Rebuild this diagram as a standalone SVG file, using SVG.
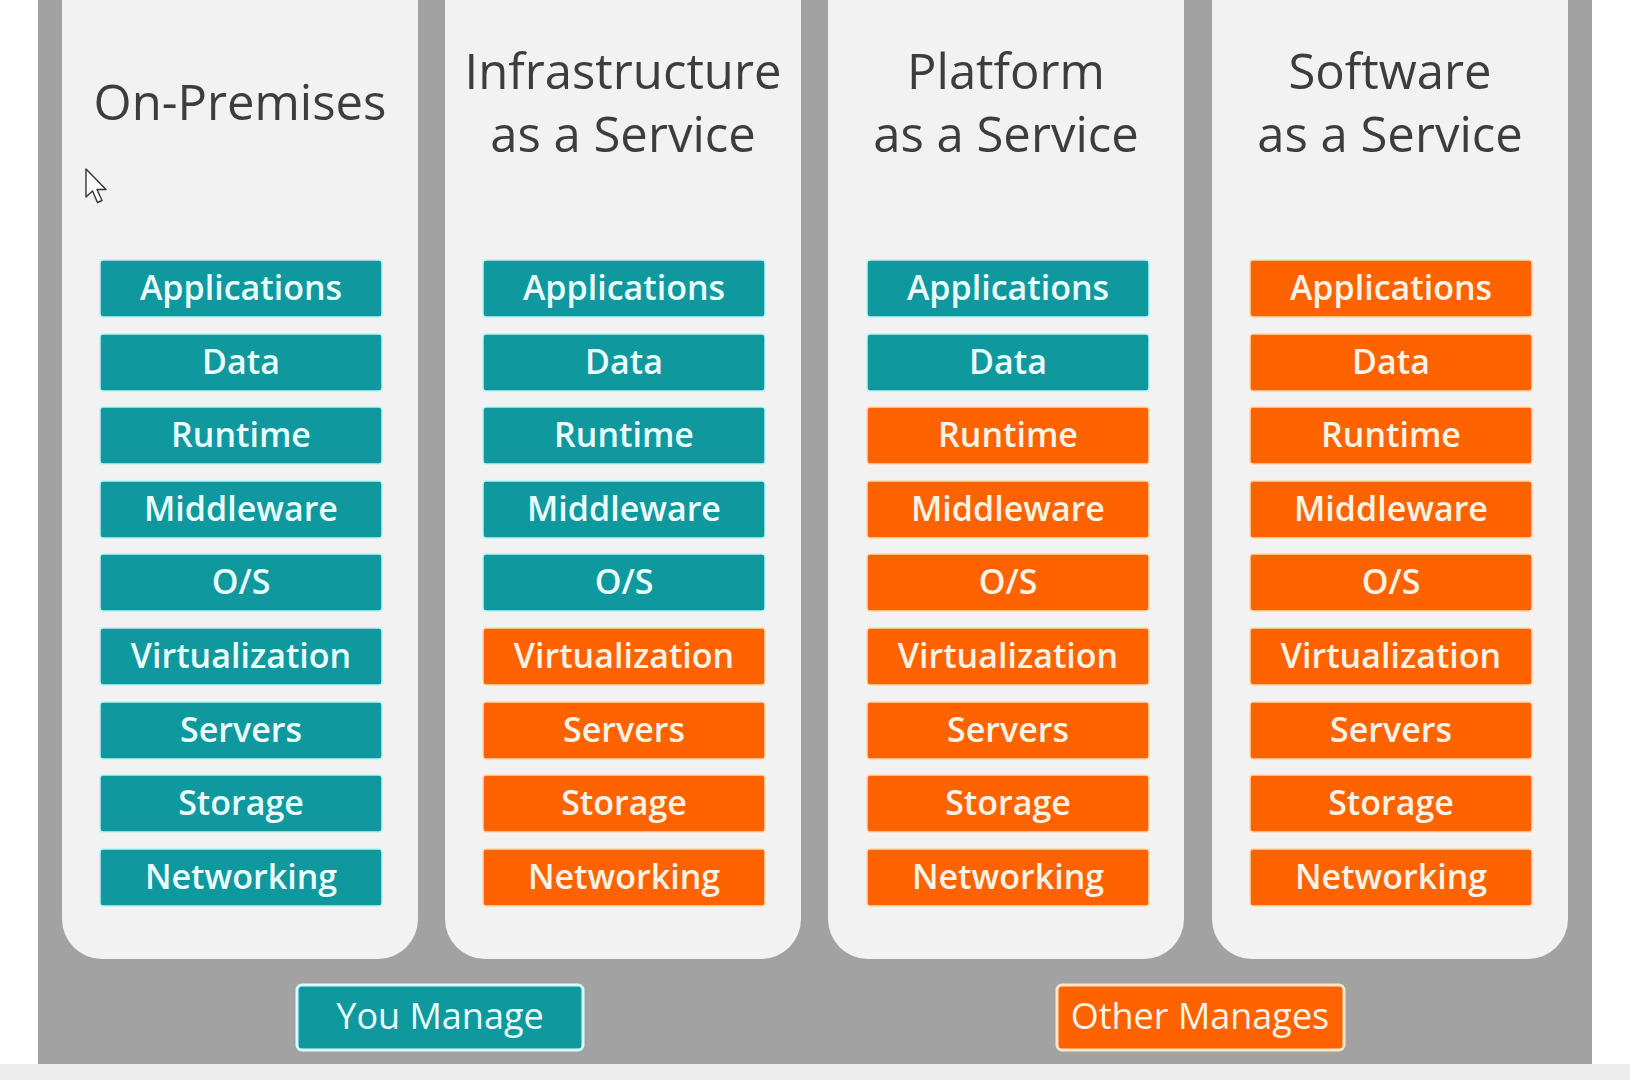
<svg xmlns="http://www.w3.org/2000/svg" width="1630" height="1080" viewBox="0 0 1630 1080">
<style>
.title{font-family:"Open Sans","Noto Sans",sans-serif;font-size:49px;fill:#3d3d3d;text-anchor:middle}
.lbl{font-family:"Open Sans","Noto Sans",sans-serif;font-size:34px;font-weight:600;text-anchor:middle}
.t rect{fill:#0f999e;stroke:#b8f4f4;stroke-width:1.5}
.o rect{fill:#ff6300;stroke:#ffd9b0;stroke-width:1.5}
.t text{fill:#eaffff}
.o text{fill:#fff3e6}
.panel{fill:#f2f2f2}
.leg{font-family:"Open Sans","Noto Sans",sans-serif;font-size:36px;font-weight:500;text-anchor:middle}
</style>
<rect x="0" y="0" width="1630" height="1080" fill="#ffffff"/>
<rect x="38" y="0" width="1554" height="1064" fill="#a2a2a2"/>
<rect x="0" y="1064" width="1630" height="16" fill="#ececec"/>

<g id="col-onprem">
<rect class="panel" x="62" y="-60" width="356" height="1019" rx="40"/>
<text class="title" x="240" y="120">On-Premises</text>
<g class="t"><rect x="100" y="260" width="282" height="57" rx="3"/><text class="lbl" x="241" y="300">Applications</text></g>
<g class="t"><rect x="100" y="334" width="282" height="57" rx="3"/><text class="lbl" x="241" y="374">Data</text></g>
<g class="t"><rect x="100" y="407" width="282" height="57" rx="3"/><text class="lbl" x="241" y="447">Runtime</text></g>
<g class="t"><rect x="100" y="481" width="282" height="57" rx="3"/><text class="lbl" x="241" y="521">Middleware</text></g>
<g class="t"><rect x="100" y="554" width="282" height="57" rx="3"/><text class="lbl" x="241" y="594">O/S</text></g>
<g class="t"><rect x="100" y="628" width="282" height="57" rx="3"/><text class="lbl" x="241" y="668">Virtualization</text></g>
<g class="t"><rect x="100" y="702" width="282" height="57" rx="3"/><text class="lbl" x="241" y="742">Servers</text></g>
<g class="t"><rect x="100" y="775" width="282" height="57" rx="3"/><text class="lbl" x="241" y="815">Storage</text></g>
<g class="t"><rect x="100" y="849" width="282" height="57" rx="3"/><text class="lbl" x="241" y="889">Networking</text></g>
</g>

<g id="col-iaas">
<rect class="panel" x="445" y="-60" width="356" height="1019" rx="40"/>
<text class="title" x="623" y="89">Infrastructure</text>
<text class="title" x="623" y="152">as a Service</text>
<g class="t"><rect x="483" y="260" width="282" height="57" rx="3"/><text class="lbl" x="624" y="300">Applications</text></g>
<g class="t"><rect x="483" y="334" width="282" height="57" rx="3"/><text class="lbl" x="624" y="374">Data</text></g>
<g class="t"><rect x="483" y="407" width="282" height="57" rx="3"/><text class="lbl" x="624" y="447">Runtime</text></g>
<g class="t"><rect x="483" y="481" width="282" height="57" rx="3"/><text class="lbl" x="624" y="521">Middleware</text></g>
<g class="t"><rect x="483" y="554" width="282" height="57" rx="3"/><text class="lbl" x="624" y="594">O/S</text></g>
<g class="o"><rect x="483" y="628" width="282" height="57" rx="3"/><text class="lbl" x="624" y="668">Virtualization</text></g>
<g class="o"><rect x="483" y="702" width="282" height="57" rx="3"/><text class="lbl" x="624" y="742">Servers</text></g>
<g class="o"><rect x="483" y="775" width="282" height="57" rx="3"/><text class="lbl" x="624" y="815">Storage</text></g>
<g class="o"><rect x="483" y="849" width="282" height="57" rx="3"/><text class="lbl" x="624" y="889">Networking</text></g>
</g>

<g id="col-paas">
<rect class="panel" x="828" y="-60" width="356" height="1019" rx="40"/>
<text class="title" x="1006" y="89">Platform</text>
<text class="title" x="1006" y="152">as a Service</text>
<g class="t"><rect x="867" y="260" width="282" height="57" rx="3"/><text class="lbl" x="1008" y="300">Applications</text></g>
<g class="t"><rect x="867" y="334" width="282" height="57" rx="3"/><text class="lbl" x="1008" y="374">Data</text></g>
<g class="o"><rect x="867" y="407" width="282" height="57" rx="3"/><text class="lbl" x="1008" y="447">Runtime</text></g>
<g class="o"><rect x="867" y="481" width="282" height="57" rx="3"/><text class="lbl" x="1008" y="521">Middleware</text></g>
<g class="o"><rect x="867" y="554" width="282" height="57" rx="3"/><text class="lbl" x="1008" y="594">O/S</text></g>
<g class="o"><rect x="867" y="628" width="282" height="57" rx="3"/><text class="lbl" x="1008" y="668">Virtualization</text></g>
<g class="o"><rect x="867" y="702" width="282" height="57" rx="3"/><text class="lbl" x="1008" y="742">Servers</text></g>
<g class="o"><rect x="867" y="775" width="282" height="57" rx="3"/><text class="lbl" x="1008" y="815">Storage</text></g>
<g class="o"><rect x="867" y="849" width="282" height="57" rx="3"/><text class="lbl" x="1008" y="889">Networking</text></g>
</g>

<g id="col-saas">
<rect class="panel" x="1212" y="-60" width="356" height="1019" rx="40"/>
<text class="title" x="1390" y="89">Software</text>
<text class="title" x="1390" y="152">as a Service</text>
<g class="o"><rect x="1250" y="260" width="282" height="57" rx="3"/><text class="lbl" x="1391" y="300">Applications</text></g>
<g class="o"><rect x="1250" y="334" width="282" height="57" rx="3"/><text class="lbl" x="1391" y="374">Data</text></g>
<g class="o"><rect x="1250" y="407" width="282" height="57" rx="3"/><text class="lbl" x="1391" y="447">Runtime</text></g>
<g class="o"><rect x="1250" y="481" width="282" height="57" rx="3"/><text class="lbl" x="1391" y="521">Middleware</text></g>
<g class="o"><rect x="1250" y="554" width="282" height="57" rx="3"/><text class="lbl" x="1391" y="594">O/S</text></g>
<g class="o"><rect x="1250" y="628" width="282" height="57" rx="3"/><text class="lbl" x="1391" y="668">Virtualization</text></g>
<g class="o"><rect x="1250" y="702" width="282" height="57" rx="3"/><text class="lbl" x="1391" y="742">Servers</text></g>
<g class="o"><rect x="1250" y="775" width="282" height="57" rx="3"/><text class="lbl" x="1391" y="815">Storage</text></g>
<g class="o"><rect x="1250" y="849" width="282" height="57" rx="3"/><text class="lbl" x="1391" y="889">Networking</text></g>
</g>

<g id="legend-you" class="t">
<rect x="297" y="985" width="286" height="65" rx="5" style="stroke:#d6ffff;stroke-width:3"/>
<text class="leg" x="440" y="1029">You Manage</text>
</g>
<g id="legend-other" class="o">
<rect x="1057" y="985" width="287" height="65" rx="5" style="stroke:#ffe6c8;stroke-width:3"/>
<text class="leg" x="1200" y="1029">Other Manages</text>
</g>

<g id="connectors"></g>

<path d="M86 169 L86 197 L92.5 191 L97.5 202.5 L102 200.5 L97 189.5 L106 189.5 Z" fill="#ffffff" stroke="#333333" stroke-width="1.4" stroke-linejoin="round"/>
</svg>
